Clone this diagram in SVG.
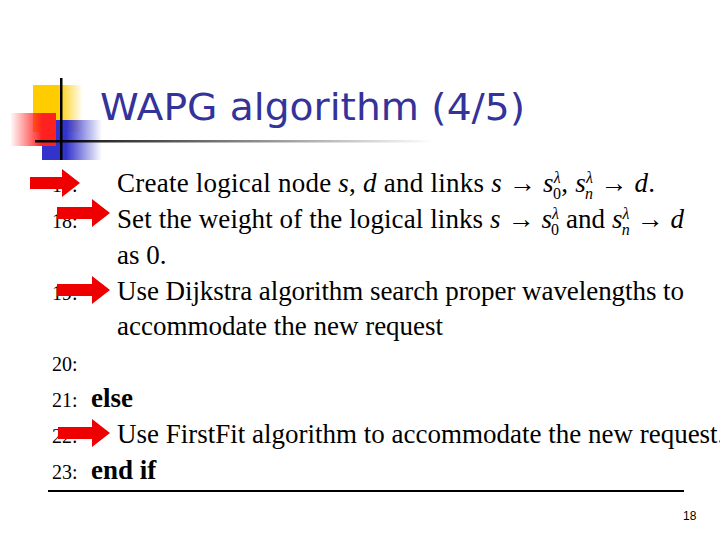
<svg xmlns="http://www.w3.org/2000/svg" width="720" height="540" viewBox="0 0 720 540">
<defs>
<linearGradient id="gb" x1="0" x2="1"><stop offset="0.4" stop-color="#3333cc"/><stop offset="1" stop-color="#3333cc" stop-opacity="0"/></linearGradient>
<linearGradient id="gy" x1="0" x2="1"><stop offset="0.5" stop-color="#ffcc00"/><stop offset="1" stop-color="#ffcc00" stop-opacity="0"/></linearGradient>
<linearGradient id="gr" x1="1" x2="0"><stop offset="0.3" stop-color="#ff2020"/><stop offset="1" stop-color="#ff2020" stop-opacity="0"/></linearGradient>
<linearGradient id="gl" x1="0" x2="1"><stop offset="0" stop-color="#000"/><stop offset="1" stop-color="#000" stop-opacity="0"/></linearGradient>
<style>
.t{font-family:"Liberation Serif",serif;font-size:27px;fill:#000}
.n{font-family:"Liberation Serif",serif;font-size:20px;fill:#000}
.i{font-style:italic}
.b{font-weight:bold}
.s{font-size:16px}
.ar{fill:#ee0000}
</style>
</defs>
<g id="logo">
<rect x="33" y="85" width="50" height="47" fill="url(#gy)"/>
<rect x="42" y="120" width="60" height="40" fill="url(#gb)"/>
<rect x="10" y="113" width="46" height="33" fill="url(#gr)"/>
<rect x="35" y="140" width="400" height="2.5" fill="url(#gl)"/>
<rect x="60" y="78" width="2.5" height="82" fill="#000"/>
</g>
<text id="title" x="100" y="120" font-family="DejaVu Sans,sans-serif" font-size="38" fill="#333399" textLength="425" lengthAdjust="spacingAndGlyphs">WAPG algorithm (4/5)</text>
<g id="code">
<text class="n" x="52" y="192">17:</text>
<text class="n" x="52" y="228">18:</text>
<text class="n" x="52" y="300">19:</text>
<text class="n" x="52" y="371">20:</text>
<text class="n" x="52" y="407">21:</text>
<text class="n" x="52" y="443">22:</text>
<text class="n" x="52" y="479">23:</text>
<text class="t" x="117" y="192" textLength="538" lengthAdjust="spacing">Create logical node <tspan class="i">s</tspan>, <tspan class="i">d</tspan> and links <tspan class="i">s</tspan> → <tspan class="i">s</tspan><tspan class="s i" dy="-9">λ</tspan><tspan class="s" dx="-8" dy="16">0</tspan><tspan dy="-7">, </tspan><tspan class="i">s</tspan><tspan class="s i" dy="-9">λ</tspan><tspan class="s i" dx="-8" dy="16">n</tspan><tspan dy="-7"> → </tspan><tspan class="i">d</tspan>.</text>
<text class="t" x="117" y="228" textLength="567" lengthAdjust="spacing">Set the weight of the logical links <tspan class="i">s</tspan> → <tspan class="i">s</tspan><tspan class="s i" dy="-9">λ</tspan><tspan class="s" dx="-8" dy="16">0</tspan><tspan dy="-7"> and </tspan><tspan class="i">s</tspan><tspan class="s i" dy="-9">λ</tspan><tspan class="s i" dx="-8" dy="16">n</tspan><tspan dy="-7"> → </tspan><tspan class="i">d</tspan></text>
<text class="t" x="117" y="264">as 0.</text>
<text class="t" x="117" y="300" textLength="567" lengthAdjust="spacing">Use Dijkstra algorithm search proper wavelengths to</text>
<text class="t" x="117" y="335">accommodate the new request</text>
<text class="t b" x="91" y="407">else</text>
<text class="t" x="117" y="443" font-size="26">Use FirstFit algorithm to accommodate the new request.</text>
<text class="t b" x="91" y="479">end if</text>
<rect x="48" y="490" width="636" height="2" fill="#000"/>
</g>
<g id="arrows">
<polygon class="ar" points="30,177 62,177 62,169 80,183 62,197 62,189 30,189"/>
<polygon class="ar" points="57,207 92,207 92,199 110,213 92,227 92,219 57,219"/>
<polygon class="ar" points="57,284 92,284 92,276 110,290 92,304 92,296 57,296"/>
<polygon class="ar" points="58,427 92,427 92,419 110,433 92,447 92,439 58,439"/>
</g>
<text id="page" x="683" y="520" font-family="Liberation Sans,sans-serif" font-size="12" fill="#000">18</text>
</svg>
